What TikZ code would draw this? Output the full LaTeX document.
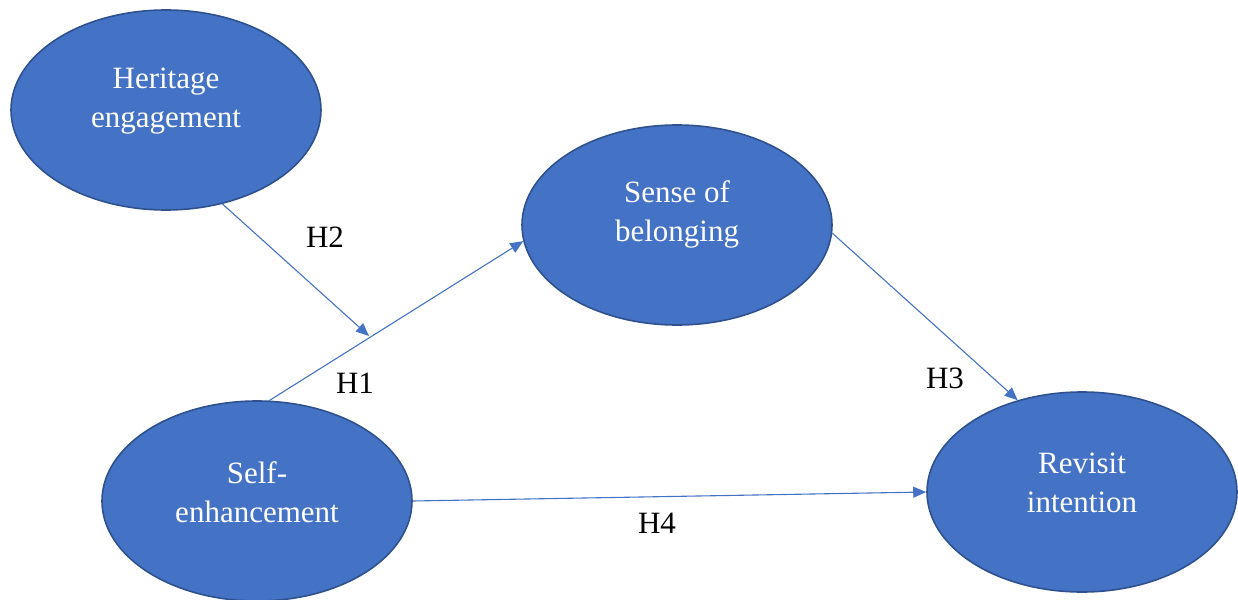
\documentclass[tikz,border=0pt]{standalone}
\usepackage{fontspec}
\setmainfont{Liberation Serif}
\usetikzlibrary{shapes.geometric,arrows.meta}
\definecolor{ofblue}{HTML}{4472C4}
\definecolor{ofedge}{HTML}{2F528F}
\tikzset{
  construct/.style={ellipse, fill=ofblue, draw=ofedge, line width=1.6pt,
    minimum width=310pt, minimum height=200pt, inner sep=0pt},
  ctext/.style={text=white, align=center, font=\fontsize{31}{39}\selectfont},
  path/.style={draw=ofblue, line width=1.1pt,
    -{Triangle[length=13pt,width=11pt]}},
  hlabel/.style={font=\fontsize{31}{36}\selectfont, text=black}
}
\begin{document}
\begin{tikzpicture}[x=1pt,y=-1pt]
\useasboundingbox (0,0) rectangle (1238,599);
\node[construct] (he) at (166,110) {};
\node[construct] (sb) at (677,225) {};
\node[construct] (se) at (257,501) {};
\node[construct] (ri) at (1082,492) {};
\node[ctext] (het) at ([yshift=9pt]he.center) {Heritage\\engagement};
\node[ctext] (sbt) at ([yshift=11pt]sb.center) {Sense of\\belonging};
\node[ctext] (set) at ([yshift=9pt]se.center) {Self-\\enhancement};
\node[ctext] (rit) at ([yshift=9pt]ri.center) {Revisit\\intention};
\coordinate (m) at (369,336);
\draw[path] (se.83) -- (sb.186.5);
\draw[path] (he.301) -- (m);
\draw[path] (sb.357) -- (ri.125.4);
\draw[path] (se.0.7) -- (ri.180.7);
\node[hlabel] (h1) at (355,383) {H1};
\node[hlabel] (h2) at (325,237) {H2};
\node[hlabel] (h3) at (945,378) {H3};
\node[hlabel] (h4) at (657,523) {H4};
\end{tikzpicture}
\end{document}
